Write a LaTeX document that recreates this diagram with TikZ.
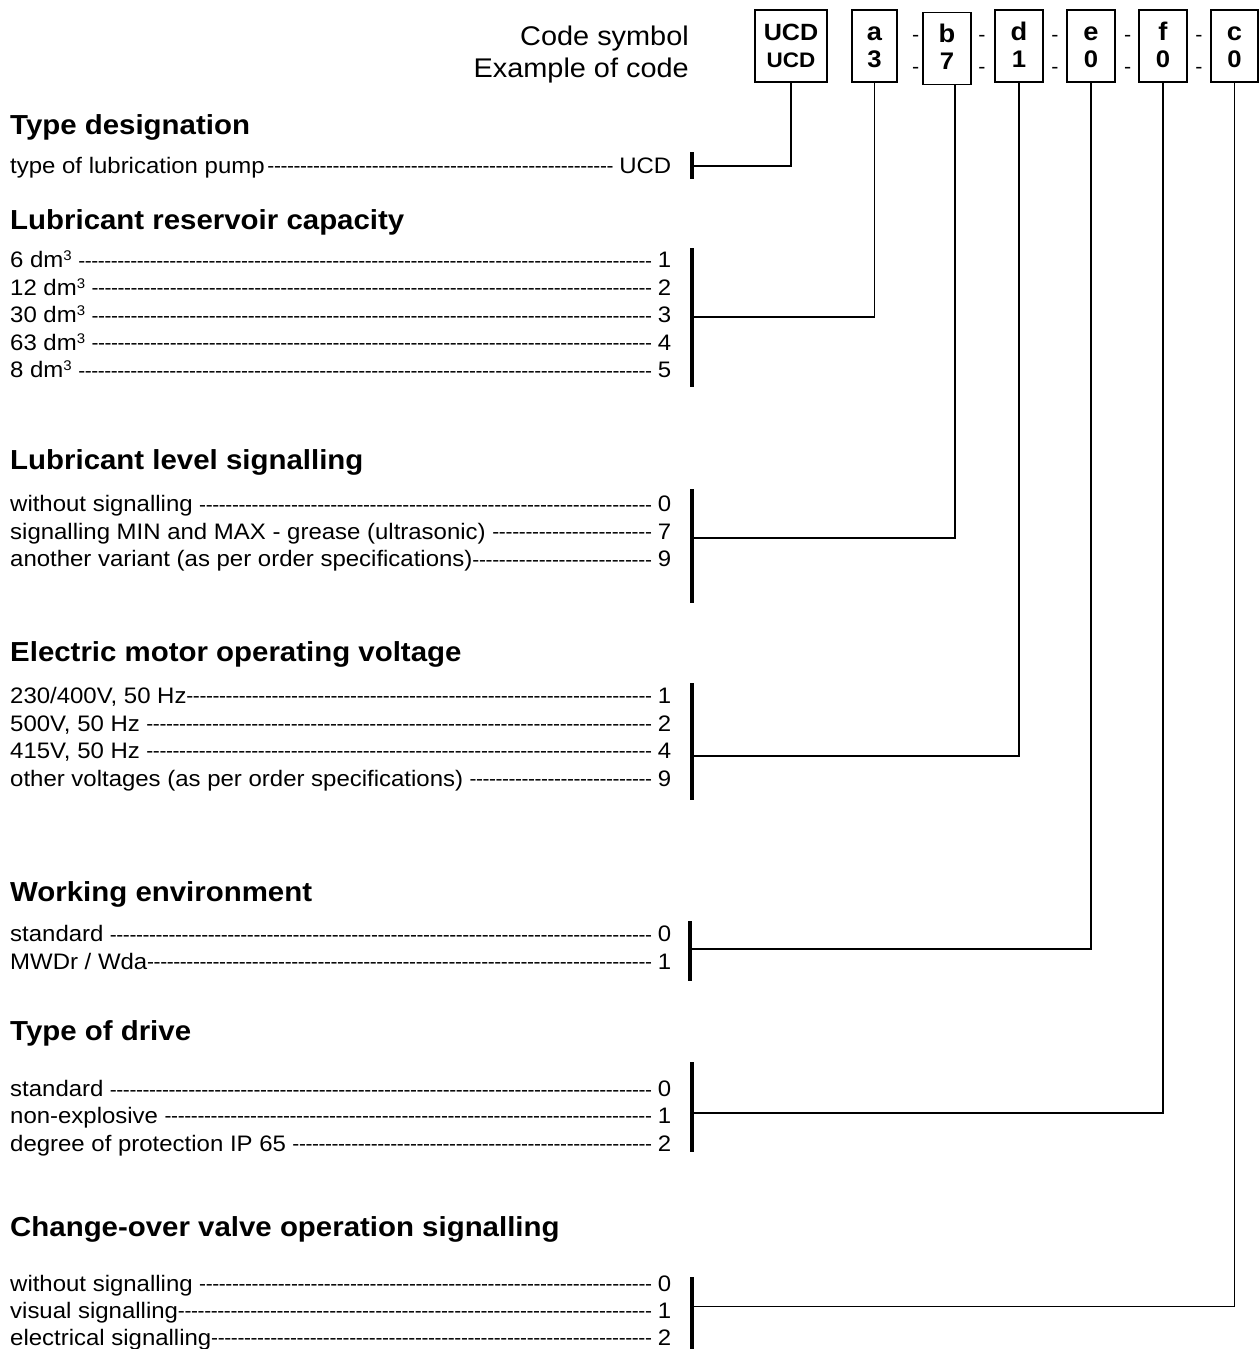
\documentclass[tikz,border=0pt]{standalone}
\usepackage{fontspec}
\setmainfont[FakeStretch=1.07]{Liberation Sans}
\newcommand\dashfill{\xleaders\hbox to 6.5pt{\hss{\fontsize{19.5}{22}\selectfont\raisebox{0.6pt}{-}}\hss}\hfill}
\newcommand\coderow[2]{\hbox to 661pt{#1\dashfill\kern6pt #2}}
\newcommand\cubic{\raisebox{7pt}{\fontsize{14}{15}\selectfont 3}}
\tikzset{
  heading/.style={anchor=base west, inner sep=0pt, font=\fontsize{27.5}{30}\selectfont\bfseries},
  item/.style={anchor=base west, inner sep=0pt, font=\fontsize{22.4}{26}\selectfont},
  headtext/.style={anchor=base east, inner sep=0pt, font=\fontsize{27}{30}\selectfont},
  codebox/.style={draw, line width=1.3pt, minimum width=#1, minimum height=72pt, inner sep=0pt},
  codetop/.style={anchor=base, inner sep=0pt, font=\fontsize{25.5}{28}\selectfont\bfseries},
  codebot/.style={anchor=base, inner sep=0pt, font=\fontsize{24}{26}\selectfont\bfseries},
  ucdtop/.style={anchor=base, inner sep=0pt, font=\fontsize{23.5}{26}\selectfont\bfseries},
  ucdbot/.style={anchor=base, inner sep=0pt, font=\fontsize{21}{24}\selectfont\bfseries},
  sep/.style={anchor=base, inner sep=0pt, font=\fontsize{20}{22}\selectfont},
  conn/.style={line width=1.7pt},
  bracket/.style={line width=3.3pt}
}
\begin{document}
\begin{tikzpicture}[x=1pt,y=-1pt]
\useasboundingbox[fill=white] (0,0) rectangle (1259,1349);

% header texts
\node[headtext] (hcs) at (689,45) {Code symbol};
\node[headtext] (hex) at (689,77) {Example of code};

% code boxes
\node[codebox=72pt] (ucd) at (791,46) {};
\node[codebox=45pt] (a) at (874.5,46) {};
\node[codebox=48pt] (b) at (947,48.3) {};
\node[codebox=48pt] (d) at (1019,46) {};
\node[codebox=48pt] (e) at (1091,46) {};
\node[codebox=48pt] (f) at (1163,46) {};
\node[codebox=47pt] (c) at (1234.5,46) {};

\node[ucdtop] (ucdt) at (791,40) {UCD};
\node[ucdbot] (ucdb) at (791,67) {UCD};
\node[codetop] (at) at (874.5,40) {a};
\node[codebot] (ab) at (874.5,67.5) {3};
\node[codetop] (bt) at (947,42) {b};
\node[codebot] (bb) at (947,69.5) {7};
\node[codetop] (dt) at (1019,40) {d};
\node[codebot] (db) at (1019,67.5) {1};
\node[codetop] (et) at (1091,40) {e};
\node[codebot] (eb) at (1091,67.5) {0};
\node[codetop] (ft) at (1163,40) {f};
\node[codebot] (fb) at (1163,67.5) {0};
\node[codetop] (ct) at (1234.5,40) {c};
\node[codebot] (cb) at (1234.5,67.5) {0};

\foreach \xx [count=\i] in {915.7,982,1055,1127.7,1199}{
  \node[sep] (sa\i) at (\xx,41) {-};
  \node[sep] (sb\i) at (\xx,73) {-};
}

% Type designation
\node[heading] (h1) at (10,134.3) {Type designation};
\node[item] (r11) at (10,173.5) {\coderow{type of lubrication pump\kern3pt}{UCD}};
\coordinate (t1) at (692,152.3);
\coordinate (m1) at (692,165.7);
\coordinate (b1) at (692,179.3);
\draw[bracket] (t1) -- (b1);
\draw[conn] (ucd.south) |- (m1);

% Lubricant reservoir capacity
\node[heading] (h2) at (10,229) {Lubricant reservoir capacity};
\node[item] (r21) at (10,267.7) {\coderow{6 dm\cubic\ }{1}};
\node[item] (r22) at (10,295.2) {\coderow{12 dm\cubic\ }{2}};
\node[item] (r23) at (10,322.7) {\coderow{30 dm\cubic\ }{3}};
\node[item] (r24) at (10,350.2) {\coderow{63 dm\cubic\ }{4}};
\node[item] (r25) at (10,377.7) {\coderow{8 dm\cubic\ }{5}};
\coordinate (t2) at (692,248);
\coordinate (m2) at (692,317);
\coordinate (b2) at (692,387);
\draw[bracket] (t2) -- (b2);
\draw[conn] (a.south) |- (m2);

% Lubricant level signalling
\node[heading] (h3) at (10,469) {Lubricant level signalling};
\node[item] (r31) at (10,511.7) {\coderow{without signalling\ }{0}};
\node[item] (r32) at (10,539.3) {\coderow{signalling MIN and MAX - grease (ultrasonic)\ }{7}};
\node[item] (r33) at (10,566.7) {\coderow{another variant (as per order specifications)}{9}};
\coordinate (t3) at (692,489);
\coordinate (m3) at (692,538);
\coordinate (b3) at (692,603);
\draw[bracket] (t3) -- (b3);
\draw[conn] ([xshift=8pt]b.south) |- (m3);

% Electric motor operating voltage
\node[heading] (h4) at (10,661.7) {Electric motor operating voltage};
\node[item] (r41) at (10,703.3) {\coderow{230/400V, 50 Hz}{1}};
\node[item] (r42) at (10,731) {\coderow{500V, 50 Hz\ }{2}};
\node[item] (r43) at (10,758.3) {\coderow{415V, 50 Hz\ }{4}};
\node[item] (r44) at (10,786) {\coderow{other voltages (as per order specifications)\ }{9}};
\coordinate (t4) at (692,683);
\coordinate (m4) at (692,756);
\coordinate (b4) at (692,800);
\draw[bracket] (t4) -- (b4);
\draw[conn] (d.south) |- (m4);

% Working environment
\node[heading] (h5) at (10,901.7) {Working environment};
\node[item] (r51) at (10,941.7) {\coderow{standard\ }{0}};
\node[item] (r52) at (10,969.3) {\coderow{MWDr / Wda}{1}};
\coordinate (t5) at (690,921);
\coordinate (m5) at (690,949);
\coordinate (b5) at (690,981);
\draw[bracket] (t5) -- (b5);
\draw[conn] (e.south) |- (m5);

% Type of drive
\node[heading] (h6) at (10,1040) {Type of drive};
\node[item] (r61) at (10,1096.7) {\coderow{standard\ }{0}};
\node[item] (r62) at (10,1123.3) {\coderow{non-explosive\ }{1}};
\node[item] (r63) at (10,1151) {\coderow{degree of protection IP 65\ }{2}};
\coordinate (t6) at (692,1062);
\coordinate (m6) at (692,1113);
\coordinate (b6) at (692,1152);
\draw[bracket] (t6) -- (b6);
\draw[conn] (f.south) |- (m6);

% Change-over valve operation signalling
\node[heading] (h7) at (10,1236) {Change-over valve operation signalling};
\node[item] (r71) at (10,1291) {\coderow{without signalling\ }{0}};
\node[item] (r72) at (10,1318.3) {\coderow{visual signalling}{1}};
\node[item] (r73) at (10,1345) {\coderow{electrical signalling}{2}};
\coordinate (t7) at (692,1277);
\coordinate (m7) at (692,1306.5);
\coordinate (b7) at (692,1349);
\draw[bracket] (t7) -- (b7);
\draw[conn] (c.south) |- (m7);
\end{tikzpicture}
\end{document}
